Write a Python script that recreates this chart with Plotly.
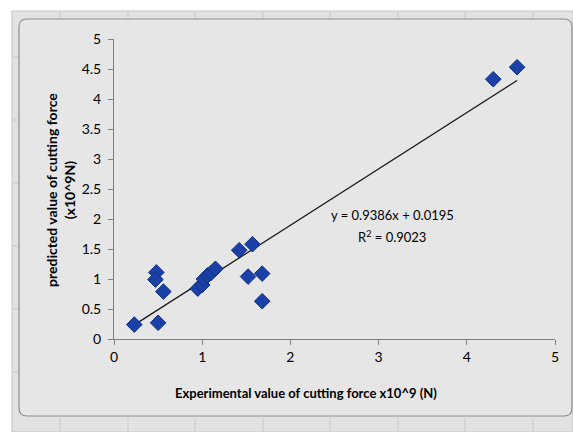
import plotly.graph_objects as go

# Data
exp_force = [0.23, 0.50, 0.48, 0.47, 0.56, 0.95, 1.00, 1.02, 1.06, 1.10, 1.15,
             1.42, 1.57, 1.52, 1.68, 1.68, 4.30, 4.57]
pred_force = [0.24, 0.27, 1.11, 0.99, 0.79, 0.84, 0.90, 1.00, 1.06, 1.10, 1.17,
              1.48, 1.58, 1.04, 1.09, 0.63, 4.33, 4.53]
slope = 0.9386
intercept = 0.0195
r2 = 0.9023
x_ticks = [0, 1, 2, 3, 4, 5]
y_ticks = [0, 0.5, 1, 1.5, 2, 2.5, 3, 3.5, 4, 4.5, 5]

xmin, xmax = min(exp_force), max(exp_force)
trend_x = [xmin, xmax]
trend_y = [slope * v + intercept for v in trend_x]

FONT = "Lato, 'Liberation Sans Narrow', 'Open Sans', sans-serif"

W, H = 573, 432
ML, MR, MT, MB = 114, 18, 39, 93
PW, PH = W - ML - MR, H - MT - MB


def px(x):
    return (x - ML) / PW


def py(y):
    return (H - MB - y) / PH


fig = go.Figure()
fig.add_trace(go.Scatter(
    x=trend_x, y=trend_y, mode="lines",
    line=dict(color="#1a1a1a", width=1.3), showlegend=False, hoverinfo="skip"))
fig.add_trace(go.Scatter(
    x=exp_force, y=pred_force, mode="markers",
    marker=dict(symbol="diamond", size=12, color="#1b40a8",
                line=dict(color="#10307f", width=1)),
    showlegend=False))

shapes = []
# outer ruler strip
shapes.append(dict(type="rect", xref="paper", yref="paper",
                   x0=px(12), x1=px(573), y0=py(432), y1=py(11),
                   layer="below", line=dict(color="#c4c4c4", width=1),
                   fillcolor="#e2e2e2"))
# chart area with rounded corners
r = 8
x0, y0, x1, y1 = 19, 19, 572, 416
path = (f"M {px(x0+r)},{py(y0)} L {px(x1-r)},{py(y0)} "
        f"Q {px(x1)},{py(y0)} {px(x1)},{py(y0+r)} "
        f"L {px(x1)},{py(y1-r)} Q {px(x1)},{py(y1)} {px(x1-r)},{py(y1)} "
        f"L {px(x0+r)},{py(y1)} Q {px(x0)},{py(y1)} {px(x0)},{py(y1-r)} "
        f"L {px(x0)},{py(y0+r)} Q {px(x0)},{py(y0)} {px(x0+r)},{py(y0)} Z")
shapes.append(dict(type="path", xref="paper", yref="paper", path=path,
                   layer="below", line=dict(color="#8c8c8c", width=1.2),
                   fillcolor="#e6e6e6"))
# ruler tick marks
for tx in [60, 128, 195, 263, 330, 398, 465, 533]:
    shapes.append(dict(type="line", xref="paper", yref="paper",
                       x0=px(tx), x1=px(tx), y0=py(12), y1=py(18),
                       layer="below", line=dict(color="#c8c8c8", width=1)))
    shapes.append(dict(type="line", xref="paper", yref="paper",
                       x0=px(tx), x1=px(tx), y0=py(418), y1=py(431),
                       layer="below", line=dict(color="#c8c8c8", width=1)))
for ty in [57, 120, 183, 246, 309, 372]:
    shapes.append(dict(type="line", xref="paper", yref="paper",
                       x0=px(13), x1=px(18), y0=py(ty), y1=py(ty),
                       layer="below", line=dict(color="#c8c8c8", width=1)))

annotations = [
    dict(xref="paper", yref="paper", x=px(392), y=py(215),
         text="y = 0.9386x + 0.0195", showarrow=False,
         font=dict(size=13, family=FONT), xanchor="center", yanchor="middle"),
    dict(xref="paper", yref="paper", x=px(392), y=py(237),
         text=f"R<sup>2</sup> = {r2}", showarrow=False,
         font=dict(size=13, family=FONT), xanchor="center", yanchor="middle"),
    dict(xref="paper", yref="paper", x=px(306), y=py(393),
         text="<b>Experimental value of cutting force x10^9 (N)</b>", showarrow=False,
         font=dict(size=13, family=FONT), xanchor="center", yanchor="middle"),
    dict(xref="paper", yref="paper", x=px(60), y=py(190),
         text="<b>predicted value of cutting force<br>(x10^9N)</b>", showarrow=False,
         textangle=-90, font=dict(size=14, family=FONT),
         xanchor="center", yanchor="middle"),
]

fig.update_layout(
    width=W, height=H,
    margin=dict(l=ML, r=MR, t=MT, b=MB),
    paper_bgcolor="white",
    plot_bgcolor="rgba(0,0,0,0)",
    shapes=shapes,
    annotations=annotations,
    font=dict(family=FONT, color="#000000"),
    xaxis=dict(range=[0, 5], tickvals=x_ticks, ticktext=[str(v) for v in x_ticks],
               showgrid=False, zeroline=False, showline=True,
               linecolor="#7f7f7f", linewidth=1, ticks="outside", ticklen=5,
               tickcolor="#7f7f7f", tickfont=dict(size=14, family=FONT)),
    yaxis=dict(range=[0, 5], tickvals=y_ticks, ticktext=[f"{v:g}" for v in y_ticks],
               showgrid=False, zeroline=False, showline=True,
               linecolor="#7f7f7f", linewidth=1, ticks="outside", ticklen=5,
               tickcolor="#7f7f7f", tickfont=dict(size=14, family=FONT),
               ticklabelstandoff=4),
)

fig.write_html("out.html")
